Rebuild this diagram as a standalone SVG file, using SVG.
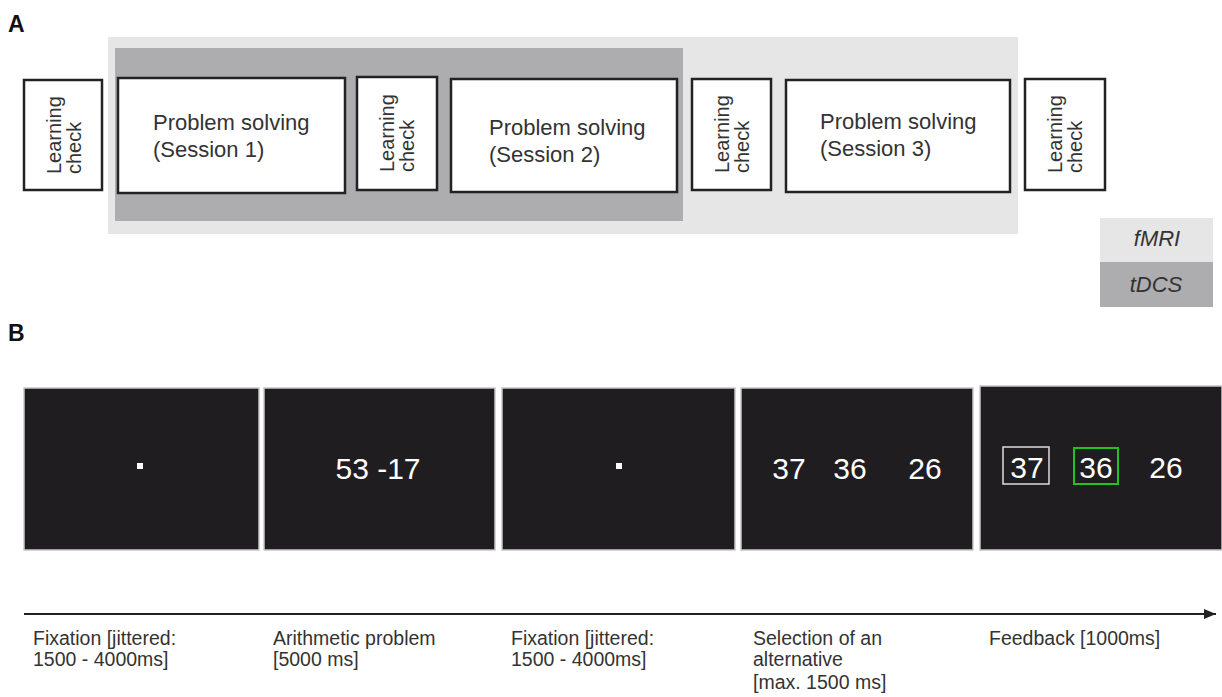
<svg xmlns="http://www.w3.org/2000/svg" width="1222" height="697" viewBox="0 0 1222 697">
<defs>
<style>
.lbl{font-family:"Liberation Sans",Arial,sans-serif;fill:#111;font-weight:bold;font-size:23px}
.box{fill:#fff;stroke:#222;stroke-width:2.5}
.t{font-family:"Liberation Sans",Arial,sans-serif;fill:#333;font-size:22px}
.lc{font-family:"Liberation Sans",Arial,sans-serif;fill:#333;font-size:20px}
.leg{font-family:"Liberation Sans",Arial,sans-serif;fill:#333;font-size:22px;font-style:italic;text-anchor:middle}
.scr{fill:#201d21;stroke:#c8c8c8;stroke-width:1.5}
.num{font-family:"Liberation Sans",Arial,sans-serif;fill:#fff;font-size:30px;text-anchor:middle}
.cap{font-family:"Liberation Sans",Arial,sans-serif;fill:#333;font-size:19.5px}
</style>
<marker id="ah" viewBox="0 0 12 10" refX="12" refY="5" markerWidth="12" markerHeight="10" orient="auto" markerUnits="userSpaceOnUse">
<path d="M0,0 L12,5 L0,10 z" fill="#222"/>
</marker>
</defs>
<rect width="1222" height="697" fill="#fff"/>
<text class="lbl" x="8" y="32">A</text>
<text class="lbl" x="8" y="341">B</text>
<g id="fmri-bg"><rect x="108" y="37" width="910" height="197" fill="#e6e6e6"/></g>
<g id="tdcs-bg"><rect x="115" y="48" width="568" height="173" fill="#adadaf"/></g>
<g id="lc1"><rect class="box" x="24" y="80" width="78" height="110"/>
<text class="lc" transform="translate(61,174) rotate(-90)">Learning</text>
<text class="lc" transform="translate(81,174) rotate(-90)">check</text></g>
<g id="ps1"><rect class="box" x="118" y="78" width="227" height="115"/>
<text class="t" x="153" y="130">Problem solving</text><text class="t" x="153" y="157">(Session 1)</text></g>
<g id="lc2"><rect class="box" x="357" y="77" width="80" height="113"/>
<text class="lc" transform="translate(394,172) rotate(-90)">Learning</text>
<text class="lc" transform="translate(414,172) rotate(-90)">check</text></g>
<g id="ps2"><rect class="box" x="451" y="79" width="226" height="113"/>
<text class="t" x="489" y="135">Problem solving</text><text class="t" x="489" y="162">(Session 2)</text></g>
<g id="lc3"><rect class="box" x="692" y="79" width="79" height="111"/>
<text class="lc" transform="translate(729,173) rotate(-90)">Learning</text>
<text class="lc" transform="translate(749,173) rotate(-90)">check</text></g>
<g id="ps3"><rect class="box" x="786" y="80" width="224" height="112"/>
<text class="t" x="820" y="129">Problem solving</text><text class="t" x="820" y="156">(Session 3)</text></g>
<g id="lc4"><rect class="box" x="1025" y="79" width="80" height="111"/>
<text class="lc" transform="translate(1062,173) rotate(-90)">Learning</text>
<text class="lc" transform="translate(1082,173) rotate(-90)">check</text></g>
<g id="legend-fmri"><rect x="1100" y="218" width="113" height="44" fill="#e6e6e6"/><text class="leg" x="1157" y="246">fMRI</text></g>
<g id="legend-tdcs"><rect x="1100" y="262" width="113" height="45" fill="#adadaf"/><text class="leg" x="1156" y="292">tDCS</text></g>
<g id="s1"><rect class="scr" x="24" y="388" width="235" height="162"/><rect x="137" y="463" width="6" height="6" fill="#fff"/></g>
<g id="s2"><rect class="scr" x="264" y="388" width="231" height="162"/><text class="num" x="378" y="479">53 -17</text></g>
<g id="s3"><rect class="scr" x="502" y="388" width="233" height="162"/><rect x="616" y="463" width="6" height="6" fill="#fff"/></g>
<g id="s4"><rect class="scr" x="741" y="388" width="232" height="162"/>
<text class="num" x="789" y="479">37</text><text class="num" x="850" y="479">36</text><text class="num" x="925" y="479">26</text></g>
<g id="s5"><rect class="scr" x="980" y="386" width="242" height="164"/>
<rect x="1003" y="447" width="46" height="37" fill="none" stroke="#ddd" stroke-width="1.5"/>
<rect x="1074" y="448" width="44" height="36" fill="none" stroke="#1fc41f" stroke-width="2"/>
<text class="num" x="1027" y="478">37</text><text class="num" x="1096" y="478">36</text><text class="num" x="1166" y="478">26</text></g>
<g id="connectors"><line x1="24" y1="614" x2="1216" y2="614" stroke="#222" stroke-width="2" marker-end="url(#ah)"/></g>
<g id="captions">
<text class="cap" x="33" y="645">Fixation [jittered:</text><text class="cap" x="33" y="666">1500 - 4000ms]</text>
<text class="cap" x="273" y="645">Arithmetic problem</text><text class="cap" x="273" y="666">[5000 ms]</text>
<text class="cap" x="511" y="645">Fixation [jittered:</text><text class="cap" x="511" y="666">1500 - 4000ms]</text>
<text class="cap" x="753" y="645">Selection of an</text><text class="cap" x="753" y="666">alternative</text><text class="cap" x="753" y="689">[max. 1500 ms]</text>
<text class="cap" x="989" y="645">Feedback [1000ms]</text>
</g>
</svg>
